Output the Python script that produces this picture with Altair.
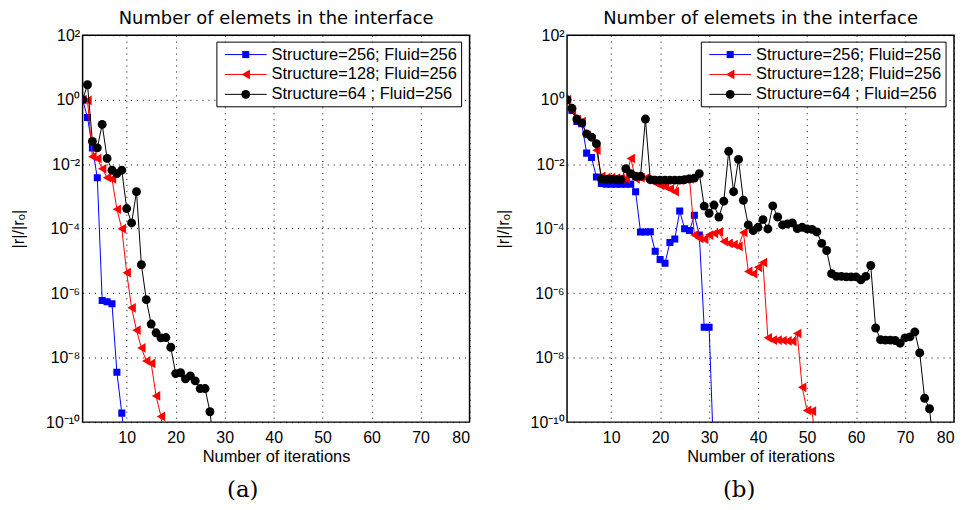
import altair as alt
import pandas as pd

# ---------------- data ----------------
# Panel (a)
a_blue_it = list(range(1, 11))
a_blue_r = [1.0, 0.28, 0.032, 3.8e-3, 5.9e-7, 5.4e-7, 4.7e-7, 3.5e-9, 1.9e-10, 8e-12]

a_red_it = list(range(1, 19))
a_red_r = [1.0, 0.95, 0.017, 0.015, 7.2e-3, 3.8e-3, 3.5e-3, 4.0e-4, 1.0e-4, 4.3e-6,
           3.5e-7, 7.1e-8, 2.0e-8, 7.9e-9, 6.6e-9, 6.5e-10, 1.5e-10, 1e-11]

a_black_it = list(range(1, 29))
a_black_r = [1.0, 2.9, 0.051, 0.032, 0.17, 0.015, 6.5e-3, 5.1e-3, 6.5e-3, 4.2e-4,
             1.5e-4, 1.4e-3, 7.6e-6, 6.3e-7, 1.1e-7, 5.9e-8, 4.1e-8, 4.2e-8, 2.1e-8, 3.2e-9,
             3.4e-9, 2.2e-9, 2.7e-9, 1.9e-9, 1.1e-9, 1.1e-9, 2.1e-10, 1e-11]

# Panel (b)
b_blue_it = list(range(1, 32))
b_blue_r = [1.0, 0.46, 0.21, 0.18, 0.022, 0.016, 4.0e-3, 2.5e-3, 2.4e-3, 2.4e-3,
            2.4e-3, 2.4e-3, 2.4e-3, 2.4e-3, 1.4e-3, 7.9e-5, 7.9e-5, 8.0e-5, 2.0e-5, 1.1e-5,
            8.5e-6, 3.7e-5, 4.8e-5, 3.5e-4, 1.0e-4, 8.7e-5, 2.6e-4, 6.3e-5, 8.7e-8, 8.7e-8,
            5e-12]

b_red_it = list(range(1, 53))
b_red_r = [1.0, 0.47, 0.24, 0.21, 0.079, 0.06, 0.027, 4.2e-3, 3.8e-3, 3.8e-3,
           3.7e-3, 3.5e-3, 3.5e-3, 0.015, 3.5e-3, 3.8e-3, 3.7e-3, 3.2e-3, 2.6e-3, 2.2e-3,
           2.0e-3, 1.7e-3, 1.4e-3, 3.2e-3, 3.5e-3, 3.5e-3, 6.3e-5, 5.0e-5, 4.7e-5, 6.3e-5,
           7.1e-5, 7.9e-5, 4.0e-5, 3.5e-5, 3.2e-5, 2.8e-5, 7.6e-5, 4.7e-6, 4.0e-6, 6.3e-6,
           8.9e-6, 4.1e-8, 3.5e-8, 3.5e-8, 3.4e-8, 3.3e-8, 3.2e-8, 5.6e-8, 1.2e-9, 2.3e-10,
           2.2e-10, 1.5e-11]

b_black_it = list(range(1, 77))
b_black_r = [1.0, 0.54, 0.25, 0.19, 0.087, 0.069, 0.043, 3.5e-3, 3.4e-3, 3.4e-3,
             3.3e-3, 3.3e-3, 7.2e-3, 5.1e-3, 4.2e-3, 4.2e-3, 0.25, 3.3e-3, 3.2e-3, 3.2e-3,
             3.2e-3, 3.2e-3, 3.2e-3, 3.2e-3, 3.3e-3, 3.5e-3, 3.7e-3, 5.1e-3, 5.0e-4, 3.0e-4,
             5.4e-4, 2.3e-4, 7.1e-4, 0.025, 1.4e-3, 0.014, 7.6e-4, 1.3e-4, 8.7e-5, 1.1e-4,
             1.9e-4, 9.8e-5, 5.1e-4, 2.3e-4, 1.3e-4, 1.4e-4, 1.5e-4, 1.0e-4, 1.1e-4, 9.8e-5,
             9.5e-5, 7.9e-5, 3.5e-5, 2.1e-5, 4.0e-6, 3.3e-6, 3.3e-6, 3.2e-6, 3.2e-6, 3.2e-6,
             2.6e-6, 3.3e-6, 7.2e-6, 8.3e-8, 3.6e-8, 3.5e-8, 3.5e-8, 3.4e-8, 2.8e-8, 4.1e-8,
             4.4e-8, 6.3e-8, 1.4e-8, 5.5e-10, 2.6e-10, 1e-11]

series_labels = ["Structure=256; Fluid=256", "Structure=128; Fluid=256", "Structure=64  ; Fluid=256"]
series_colors = ["#0000ff", "#ff0000", "#000000"]
series_shapes = ["square", "triangle-left", "circle"]
series_sizes = [50, 95, 80]

x_ticks = [10, 20, 30, 40, 50, 60, 70, 80]
y_ticks = [1e-10, 1e-8, 1e-6, 1e-4, 1e-2, 1e0, 1e2]
y_tick_text = {2: "10²", 0: "10⁰", -2: "10⁻²", -4: "10⁻⁴", -6: "10⁻⁶", -8: "10⁻⁸", -10: "10⁻¹⁰"}

panel_title = "Number of elemets in the interface"
x_title = "Number of iterations"
y_title = "|r|/|rₒ|"

FONT = "Liberation Sans"
W = 389
H = 389

label_expr = ""
for k, v in y_tick_text.items():
    label_expr += f"round(log(datum.value)/LN10) == {k} ? '{v}' : "
label_expr += "''"

x_axis = alt.Axis(values=x_ticks, title=x_title, grid=True, ticks=False, domain=False,
                  labelFontSize=16, titleFontSize=16.5, labelPadding=7, titlePadding=4,
                  labelFont=FONT, titleFont=FONT, titleFontWeight="normal",
                  labelColor="black", titleColor="black",
                  gridColor="black", gridDash=[1, 5], gridWidth=1, gridOpacity=1)
y_axis = alt.Axis(values=y_ticks, title=y_title, grid=True, ticks=False, domain=False,
                  labelExpr=label_expr, labelFontSize=16, titleFontSize=16.5,
                  labelPadding=3, titlePadding=19, labelFont=FONT, titleFont=FONT,
                  titleFontWeight="normal", labelColor="black", titleColor="black",
                  gridColor="black", gridDash=[1, 5], gridWidth=1, gridOpacity=1)

x_scale = alt.Scale(domain=[1, 80], nice=False, zero=False)
y_scale = alt.Scale(type="log", domain=[1e-10, 1e2], nice=False)


def panel(series, caption, cap_x):
    layers = []
    for (its, vals), color, shape, size in zip(series, series_colors, series_shapes, series_sizes):
        df = pd.DataFrame({"it": its, "r": vals})
        xe = alt.X("it:Q", scale=x_scale, axis=x_axis)
        ye = alt.Y("r:Q", scale=y_scale, axis=y_axis)
        layers.append(alt.Chart(df).mark_line(color=color, strokeWidth=1, clip=True).encode(x=xe, y=ye))
        layers.append(alt.Chart(df).mark_point(shape=shape, size=size, filled=True, color=color,
                                               opacity=1, clip=True).encode(x=xe, y=ye))
    one = alt.Chart(pd.DataFrame({"a": [0]}))
    layers.append(one.mark_rect(fill="white", stroke="black", strokeWidth=1).encode(
        x=alt.value(135), x2=alt.value(381), y=alt.value(7), y2=alt.value(72)))
    for i, (lab, color, shape, size) in enumerate(zip(series_labels, series_colors, series_shapes, series_sizes)):
        yy = 19.5 + 20 * i
        layers.append(one.mark_rule(color=color, strokeWidth=1).encode(
            x=alt.value(143), x2=alt.value(185), y=alt.value(yy)))
        layers.append(one.mark_point(shape=shape, size=size, filled=True, color=color, opacity=1).encode(
            x=alt.value(164), y=alt.value(yy)))
        layers.append(one.mark_text(align="left", baseline="middle", font=FONT, fontSize=16.5,
                                    color="black").encode(
            x=alt.value(190), y=alt.value(yy), text=alt.value(lab)))
    layers.append(one.mark_text(align="center", baseline="middle", font="DejaVu Serif", fontSize=23,
                                color="black").encode(
        x=alt.value(cap_x), y=alt.value(H + 68), text=alt.value(caption)))
    return alt.layer(*layers).properties(
        width=W, height=H,
        title=alt.TitleParams(panel_title, frame="group", anchor="middle", fontSize=18,
                              fontWeight="normal", font="DejaVu Sans", color="black", offset=-1))


left = panel([(a_blue_it, a_blue_r), (a_red_it, a_red_r), (a_black_it, a_black_r)], "(a)", 161)
right = panel([(b_blue_it, b_blue_r), (b_red_it, b_red_r), (b_black_it, b_black_r)], "(b)", 173)

chart = alt.hconcat(left, right, spacing=24).properties(
    padding={"left": 2, "top": 0, "right": 0, "bottom": 0}
).configure_view(stroke="black", strokeWidth=1.5)

chart.save("out.html", embed_options={"renderer": "svg", "actions": False})
